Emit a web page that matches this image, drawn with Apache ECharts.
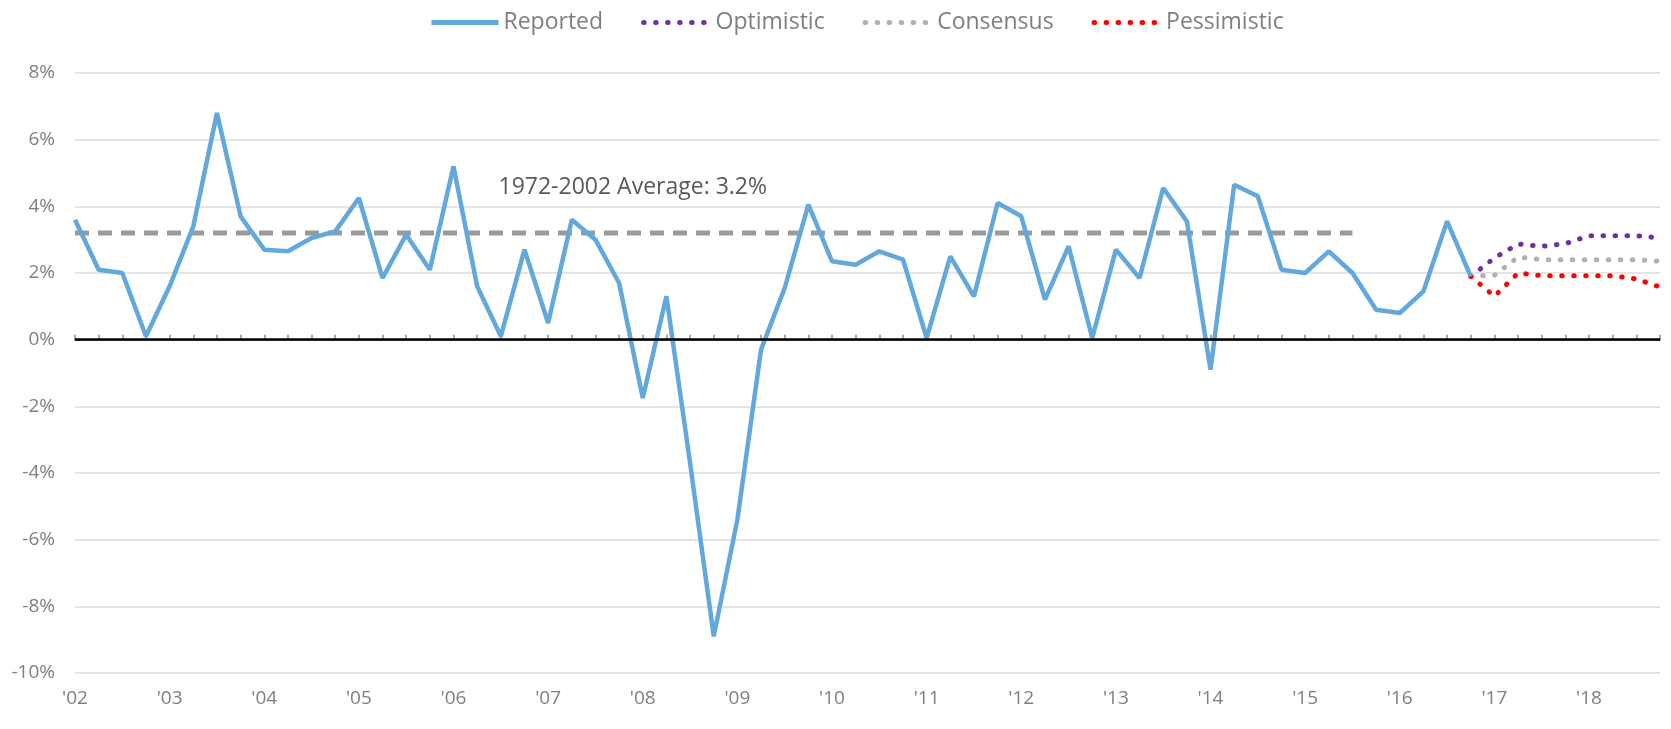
<!DOCTYPE html>
<html>
<head>
<meta charset="utf-8">
<title>GDP growth</title>
<script src="https://cdn.jsdelivr.net/npm/echarts@6/dist/echarts.min.js"></script>
<style>
  html, body { margin: 0; padding: 0; background: #fff; }
  #chart { width: 1671px; height: 729px; }
</style>
</head>
<body>
<div id="chart"></div>
<script>
// quarterly categories, 2002Q1 .. 2018Q4
var years = [2002, 2003, 2004, 2005, 2006, 2007, 2008, 2009, 2010,
             2011, 2012, 2013, 2014, 2015, 2016, 2017, 2018]
var quarters = []
years.forEach(function (y) {
  for (var q = 1; q <= 4; q++) quarters.push(y + 'Q' + q)
})

// reported growth, 2002Q1 .. 2016Q4
var reported = [
  3.6, 2.1, 2.0, 0.1,
  1.6, 3.4, 6.8, 3.7,
  2.7, 2.65, 3.05, 3.25,
  4.25, 1.85, 3.15, 2.1,
  5.2, 1.6, 0.1, 2.7,
  0.5, 3.6, 3.0, 1.7,
  -1.75, 1.3, -3.7, -8.9,
  -5.4, -0.3, 1.55, 4.05,
  2.35, 2.25, 2.65, 2.4,
  0.05, 2.5, 1.3, 4.1,
  3.7, 1.2, 2.8, 0.05,
  2.7, 1.85, 4.55, 3.55,
  -0.9, 4.65, 4.3, 2.1,
  2.0, 2.65, 2.0, 0.9,
  0.8, 1.45, 3.55, 1.9
]

// forecasts, 2016Q4 .. 2018Q4
var forecastStart = 59
var optimistic  = [1.9, 2.45, 2.87, 2.8, 2.88, 3.12, 3.12, 3.12, 3.05]
var consensus   = [1.9, 1.93, 2.48, 2.4, 2.4, 2.4, 2.4, 2.4, 2.35]
var pessimistic = [1.9, 1.3, 2.0, 1.92, 1.92, 1.92, 1.92, 1.82, 1.58]

// 1972-2002 average, drawn up to 2015Q3
var avgValue = 3.2
var avgEnd = 54
var avgLabel = '1972-2002 Average: 3.2%'

function pad(arr, start) {
  var out = []
  for (var i = 0; i < start; i++) out.push(null)
  return out.concat(arr)
}

var avgData = quarters.map(function (q, i) { return i <= avgEnd ? avgValue : null })

var labelColor = '#7f7f7f'
var font = 'Open Sans'

function dots(color) {
  return { color: color, width: 5, type: [0.5, 11.5], cap: 'round' }
}

var chart = echarts.init(document.getElementById('chart'))
chart.setOption({
  animation: false,
  textStyle: { fontFamily: font },
  grid: { left: 75, right: 11, top: 73, bottom: 56 },
  legend: {
    top: 6,
    left: 424,
    itemWidth: 67,
    itemHeight: 10,
    itemGap: 38,
    data: ['Reported', 'Optimistic', 'Consensus', 'Pessimistic'],
    itemStyle: { opacity: 0 },
    lineStyle: { width: 5 },
    textStyle: { color: labelColor, fontSize: 23, fontFamily: font }
  },
  xAxis: {
    type: 'category',
    data: quarters,
    boundaryGap: false,
    axisLine: { lineStyle: { color: '#8c8c8c', width: 2 } },
    axisTick: { show: true, interval: 0, inside: true, length: 5, lineStyle: { color: '#8c8c8c', width: 1.5 } },
    axisLabel: {
      interval: function (i) { return i % 4 === 0 },
      formatter: function (v) { return "'" + v.slice(2, 4) },
      color: labelColor,
      fontSize: 19,
      margin: 16
    },
    splitLine: { show: false }
  },
  yAxis: {
    type: 'value',
    min: -10,
    max: 8,
    interval: 2,
    axisLine: { show: false },
    axisTick: { show: false },
    axisLabel: { formatter: '{value}%', color: labelColor, fontSize: 19, margin: 20 },
    splitLine: { lineStyle: { color: '#dcdcdc', width: 1.5 } }
  },
  series: [
    {
      name: 'Average',
      type: 'line',
      data: avgData,
      symbol: 'none',
      z: 1,
      lineStyle: { color: '#9a9a9a', width: 5, type: [14, 9] },
      markPoint: {
        symbol: 'circle',
        symbolSize: 0,
        silent: true,
        data: [{
          coord: [quarters[24], avgValue],
          label: {
            show: true,
            position: 'top',
            distance: 34,
            offset: [-10, 0],
            formatter: avgLabel,
            color: '#595959',
            fontSize: 23,
            fontFamily: font
          }
        }]
      }
    },
    {
      name: 'Reported',
      type: 'line',
      data: reported,
      symbol: 'none',
      z: 3,
      lineStyle: { color: '#62a8dc', width: 4.5 },
      itemStyle: { color: '#62a8dc' },
      markLine: {
        silent: true,
        symbol: 'none',
        label: { show: false },
        lineStyle: { color: '#000', width: 2.5, type: 'solid' },
        data: [{ yAxis: 0 }]
      }
    },
    {
      name: 'Optimistic',
      type: 'line',
      data: pad(optimistic, forecastStart),
      symbol: 'none',
      z: 2,
      lineStyle: dots('#7030a0'),
      itemStyle: { color: '#7030a0' }
    },
    {
      name: 'Consensus',
      type: 'line',
      data: pad(consensus, forecastStart),
      symbol: 'none',
      z: 2,
      lineStyle: dots('#b0b0b0'),
      itemStyle: { color: '#b0b0b0' }
    },
    {
      name: 'Pessimistic',
      type: 'line',
      data: pad(pessimistic, forecastStart),
      symbol: 'none',
      z: 2,
      lineStyle: dots('#ff0000'),
      itemStyle: { color: '#ff0000' }
    }
  ]
})
</script>
</body>
</html>
